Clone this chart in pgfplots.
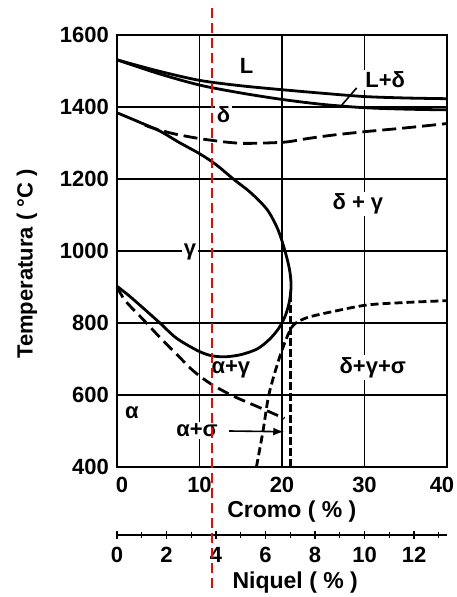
\documentclass[border=0pt]{standalone}
\usepackage{pgfplots}
\pgfplotsset{compat=1.18}
\usepackage{fontspec}
\setmainfont{Liberation Sans}
\begin{document}
\begin{tikzpicture}
\useasboundingbox (-58.5pt,-65pt) rectangle (169.5pt,233.5pt);
% Niquel axis
\begin{axis}[at={(0pt,-34pt)}, anchor=south west, scale only axis,
  width=165pt, height=2pt, xmin=0, xmax=13.3333, ymin=0, ymax=1,
  axis x line=bottom, axis y line=none,
  axis line style={-, line width=1.1pt},
  xtick={0,2,...,12}, minor xtick={1,3,...,13},
  tick align=center, major tick length=3.5pt, minor tick length=3pt,
  tick style={black, line width=0.7pt},
  xticklabel style={font=\bfseries\fontsize{11}{12}\selectfont, yshift=-1pt},
  /pgf/number format/assume math mode=true,
  xlabel={Niquel ( \% )},
  xlabel style={at={(axis description cs:0.54,0)}, anchor=center, yshift=-24pt, font=\bfseries\fontsize{11.5}{13}\selectfont},
]
\addplot[draw=none] coordinates {(0,0) (13,1)};
\end{axis}
% main axis
\begin{axis}[at={(0pt,0pt)}, anchor=south west, scale only axis,
  width=165pt, height=216pt,
  xmin=0, xmax=40, ymin=400, ymax=1600,
  xtick={0,10,...,40}, ytick={400,600,...,1600},
  xticklabels={\kern5pt 0, 10, 20, 30, 40\kern-0pt\hspace*{0pt}},
  xticklabels={{\kern5pt 0}, 10, 20, 30, {\kern-5pt 40}},
  grid=major, major grid style={black, line width=0.7pt},
  axis line style={line width=1.3pt},
  tick style={draw=none},
  clip=false,
  ticklabel style={font=\bfseries\fontsize{11}{12}\selectfont},
  xticklabel style={yshift=-1.5pt},
  yticklabel style={xshift=-0.5pt},
  /pgf/number format/assume math mode=true,
  /pgf/number format/1000 sep={},
  xlabel={Cromo ( \% )}, ylabel={Temperatura ( °C )},
  xlabel style={at={(axis description cs:0.53,-0.104)}, anchor=center, font=\bfseries\fontsize{11.5}{13}\selectfont},
  ylabel style={at={(axis description cs:-0.273,0.47)}, anchor=center, font=\bfseries\fontsize{11}{13}\selectfont},
]
% region labels
\node[font=\bfseries\fontsize{11}{13}\selectfont, fill=white, inner sep=1pt] at (axis cs:15.7,1513) {L};
\node[font=\bfseries\fontsize{11}{13}\selectfont, fill=white, inner sep=1pt] at (axis cs:32.5,1476) {L+δ};
\node[font=\bfseries\fontsize{11}{13}\selectfont, fill=white, inner sep=1pt] at (axis cs:12.9,1379) {δ};
\node[font=\bfseries\fontsize{11}{13}\selectfont, fill=white, inner sep=1pt] at (axis cs:29.2,1131) {δ + γ};
\node[font=\bfseries\fontsize{11}{13}\selectfont, fill=white, inner sep=1pt] at (axis cs:8.85,998) {γ};
\node[font=\bfseries\fontsize{11}{13}\selectfont, fill=white, inner sep=1pt] at (axis cs:13.8,671) {α+γ};
\node[font=\bfseries\fontsize{11}{13}\selectfont, fill=white, inner sep=1pt] at (axis cs:31,676) {δ+γ+σ};
\node[font=\bfseries\fontsize{11}{13}\selectfont, fill=white, inner sep=1pt] at (axis cs:1.8,552) {α};
\node[font=\bfseries\fontsize{11}{13}\selectfont, fill=white, inner sep=1pt] at (axis cs:9.7,502) {α+σ};
% liquidus
\addplot[black, line width=1.4pt, smooth] coordinates {
 (0,1531) (5,1500) (10,1474) (15,1459) (20,1448) (25,1438) (30,1429) (35,1425) (40,1423)};
% solidus
\addplot[black, line width=1.4pt, smooth] coordinates {
 (0,1531) (5,1493) (10,1461) (15,1439) (20,1421) (25,1407) (30,1398) (35,1394) (40,1392)};
% leader L+delta
\addplot[black, line width=0.8pt] coordinates {(29.05,1453) (27.2,1404)};
% delta / delta+gamma dashed
\addplot[black, line width=1.4pt, smooth, dash pattern=on 7pt off 3pt] coordinates {
 (3.4,1349) (5,1337) (7.2,1324) (10.1,1312) (13,1303) (15.3,1299) (18,1300) (20.6,1303)
 (23,1312) (26.2,1322) (30.3,1332) (35,1342) (40,1354)};
% gamma loop
\addplot[black, line width=1.4pt, smooth, tension=0.5] coordinates {
 (0,1384) (2.5,1360) (5.2,1333) (7.5,1302) (10.1,1269) (12,1240) (14.1,1200) (16.2,1162)
 (18.2,1115) (19.5,1060) (20.3,1005) (20.9,950) (21.1,905) (20.9,860) (20.4,820) (19.6,785)
 (18.5,755) (17,728) (15,712) (13,706) (11.3,710) (9.7,724) (7.2,758) (5.2,800) (3.2,841)
 (1.5,875) (0,902)};
% alpha / alpha+gamma dashed
\addplot[black, line width=1.4pt, smooth, dash pattern=on 6pt off 3pt] coordinates {
 (0,900) (1,862) (3.2,809) (5.2,760) (7.2,714) (9.2,668) (11.3,632) (14,598) (17.3,565) (20.3,535)};
% steep dashed to sigma boundary
\addplot[black, line width=1.4pt, smooth, dash pattern=on 4pt off 2pt] coordinates {
 (16.9,400) (17.7,500) (18.4,600) (19.5,690) (20.5,755) (21.3,792) (22.3,808) (23.5,818)
 (26.2,832) (30.3,850) (35,857) (40,862)};
% vertical dashed at x=21
\addplot[black, line width=1.4pt, dash pattern=on 4pt off 1.5pt] coordinates {(21,400) (21,880)};
% leader alpha+sigma
\addplot[black, line width=0.8pt, -latex] coordinates {(13.6,500) (20.2,498)};
% red line
\addplot[red, line width=1.2pt, dash pattern=on 5pt off 2.5pt] coordinates {(11.5,1675) (11.5,50)};
\end{axis}
\end{tikzpicture}
\end{document}
